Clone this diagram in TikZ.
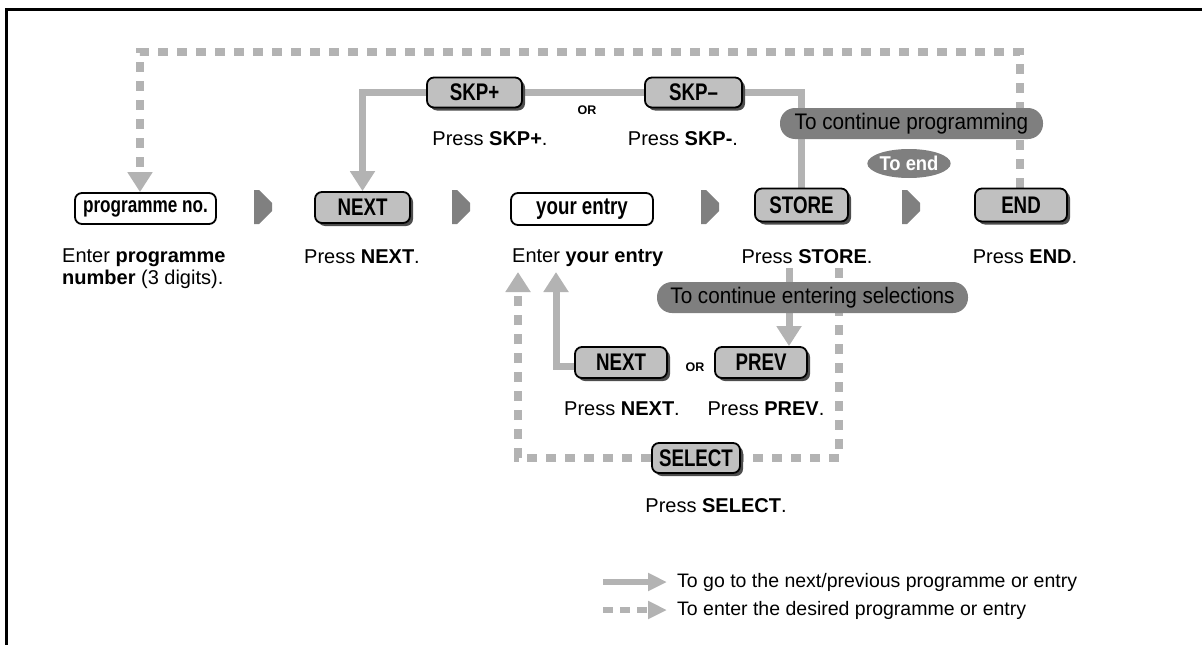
\documentclass[tikz,border=0pt]{standalone}
\usepackage{fontspec}
\setmainfont{Liberation Sans}
\newfontfamily\keyfont[FakeStretch=0.78]{Liberation Sans}
\newfontfamily\pillfont[FakeStretch=0.92]{Liberation Sans}
\usetikzlibrary{arrows.meta,shadows,shapes.geometric,backgrounds,calc}
\definecolor{linkgray}{HTML}{B3B3B3}
\definecolor{keygray}{HTML}{C0C0C0}
\definecolor{pillgray}{HTML}{7F7F7F}
\definecolor{chevgray}{HTML}{808080}
\definecolor{shadowgray}{HTML}{4D4D4D}
\tikzset{
  keycap/.style={draw=black, line width=1.8pt, rounded corners=7pt, fill=keygray,
    inner sep=0pt, font=\keyfont\bfseries\fontsize{24}{26}\selectfont,
    drop shadow={shadow xshift=3pt, shadow yshift=-3pt, fill=shadowgray, opacity=1}},
  entrybox/.style={draw=black, line width=1.8pt, rounded corners=7pt, fill=white,
    inner sep=0pt, font=\keyfont\bfseries\fontsize{24}{26}\selectfont},
  caption/.style={font=\fontsize{20}{22}\selectfont, inner sep=0pt},
  orlabel/.style={font=\bfseries\fontsize{12.5}{14}\selectfont, inner sep=0pt},
  pill/.style={fill=pillgray, rounded corners=15pt, inner sep=0pt,
    font=\pillfont\fontsize{22.5}{24}\selectfont},
  endpill/.style={ellipse, fill=pillgray, inner sep=0pt, text=white,
    font=\pillfont\bfseries\fontsize{20}{22}\selectfont},
  graylink/.style={draw=linkgray, line width=7pt, -{Triangle[width=24pt,length=20pt]}},
  grayline/.style={draw=linkgray, line width=7pt},
  dashlink/.style={draw=linkgray, line width=7.5pt, dash pattern=on 10pt off 9pt,
    -{Triangle[width=24pt,length=20pt]}},
  dashline/.style={draw=linkgray, line width=7.5pt, dash pattern=on 10pt off 9pt},
  legendsolid/.style={draw=linkgray, line width=6.5pt, -{Triangle[width=17pt,length=19pt]}},
  legenddash/.style={draw=linkgray, line width=6.5pt, dash pattern=on 10pt off 7pt,
    -{Triangle[width=17pt,length=19pt]}},
  legendtext/.style={font=\fontsize{19.5}{22}\selectfont, inner sep=0pt, anchor=west},
}
\newcommand\flowchev[1]{\fill[chevgray] (#1) ++(-9,-17) -- ++(5,0) -- ++(13,13) -- ++(0,8) -- ++(-13,13) -- ++(-5,0) -- cycle;}
\begin{document}
\begin{tikzpicture}[x=1pt,y=-1pt]
\useasboundingbox (0,0) rectangle (1202,645);
% frame
\draw[line width=3pt] (1202,9.5) -- (6,9.5) -- (6,645);

% key boxes
\node[entrybox, minimum width=141pt, minimum height=31pt, font=\keyfont\bfseries\fontsize{22}{24}\selectfont] (pno) at (145.5,208.5) {programme no.};
\node[keycap, minimum width=95pt, minimum height=31pt] (next1) at (362.5,207.5) {NEXT};
\node[entrybox, minimum width=142pt, minimum height=32pt] (entry) at (582,209) {your entry};
\node[keycap, minimum width=93pt, minimum height=33pt] (store) at (801.5,205) {STORE};
\node[keycap, minimum width=92pt, minimum height=33pt] (endk) at (1021,205) {END};
\node[keycap, minimum width=95pt, minimum height=30pt] (skpp) at (474.5,92.5) {SKP+};
\node[keycap, minimum width=97pt, minimum height=30pt] (skpm) at (693.5,92.5) {SKP\textendash};
\node[keycap, minimum width=92pt, minimum height=31pt] (next2) at (621,362.5) {NEXT};
\node[keycap, minimum width=92pt, minimum height=31pt] (prev) at (761,362.5) {PREV};
\node[keycap, minimum width=88pt, minimum height=30pt] (selectk) at (696,458) {SELECT};

% OR labels
\node[orlabel] (or1) at (587,110) {OR};
\node[orlabel] (or2) at (695,367) {OR};

% captions
\node[caption, anchor=north west, align=left] (cap1) at (62,248.5) {Enter \textbf{programme}\\\textbf{number} (3 digits).};
\node[caption, anchor=base] (cap2) at (362,263) {Press \textbf{NEXT}.};
\node[caption, anchor=base west] (cap3) at (512,262) {Enter \textbf{your entry}};
\node[caption, anchor=base] (cap4) at (807,263) {Press \textbf{STORE}.};
\node[caption, anchor=base] (cap5) at (1025,263) {Press \textbf{END}.};
\node[caption, anchor=base] (cap6) at (490,145) {Press \textbf{SKP+}.};
\node[caption, anchor=base] (cap7) at (683,145) {Press \textbf{SKP-}.};
\node[caption, anchor=base] (cap8) at (622,415) {Press \textbf{NEXT}.};
\node[caption, anchor=base] (cap9) at (766,415) {Press \textbf{PREV}.};
\node[caption, anchor=base] (cap10) at (716,512) {Press \textbf{SELECT}.};

% pills
\node[pill, minimum width=263pt, minimum height=31pt] (contprog) at (911.5,123.5) {To continue programming};
\node[endpill, minimum width=82pt, minimum height=29pt] (toend) at (909,163.5) {To end};
\node[pill, minimum width=311pt, minimum height=31pt] (contsel) at (812.5,297.5) {To continue entering selections};

% flow chevrons
\flowchev{263,207}
\flowchev{461,207}
\flowchev{710,207}
\flowchev{911,207}

% legend
\node[legendtext] (lg1) at (677,582) {To go to the next/previous programme or entry};
\node[legendtext] (lg2) at (677,610) {To enter the desired programme or entry};
\coordinate (lg1a) at (603,582);
\coordinate (lg2a) at (603,610);

% connectors
\coordinate (tdR) at (1020,52);
\coordinate (tdL) at (140,52);
\coordinate (pvtop) at (789,268);
\coordinate (n2tip) at (556,272);
\coordinate (sdR) at (839,268);
\coordinate (sdL) at (518,272);
\begin{pgfonlayer}{background}
\draw[dashlink] (endk.north -| tdR) -- (tdR) -- (tdL) -- (tdL |- pno.north);
\draw[grayline] (store.north) -- (store.north |- skpm.east) -- (skpm.east);
\draw[grayline] (skpm.west) -- (skpp.east);
\draw[graylink] (skpp.west) -| (next1.north);
\draw[graylink] (pvtop) -- (pvtop |- prev.north);
\draw[graylink] ($(next2.west)+(0,3.5)$) -| (n2tip);
\draw[dashline] (sdR) |- (selectk.east);
\draw[dashlink] (selectk.west) -| (sdL);
\draw[legendsolid] (lg1a) -- ($(lg1.west)+(-10,0)$);
\draw[legenddash] (lg2a) -- ($(lg2.west)+(-10,0)$);
\end{pgfonlayer}
\end{tikzpicture}
\end{document}
